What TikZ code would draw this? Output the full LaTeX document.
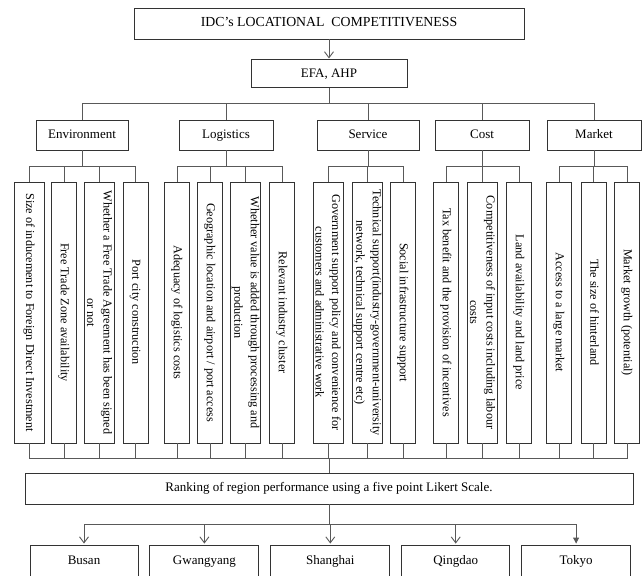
\documentclass[tikz,border=0pt]{standalone}
\usepackage{fontspec}
\setmainfont{Liberation Serif}
\usetikzlibrary{arrows.meta,positioning}

\begin{document}
\begin{tikzpicture}[
    x=1pt, y=-1pt,
    box/.style={rectangle, draw=black!80, line width=0.9pt, align=center, inner sep=2pt, text height=9.5pt, text depth=3pt, font=\fontsize{13}{15}\selectfont},
    head/.style={box, minimum width=390pt, minimum height=31pt},
    cat/.style={box, minimum width=94pt, minimum height=30pt},
    item/.style={box, rotate=-90, minimum width=261pt, minimum height=25pt, inner sep=1pt, text height=9pt, text depth=2.8pt, font=\fontsize{12.2}{16.5}\selectfont},
    broad/.style={minimum height=30pt, text height={}, text depth={}},
    city/.style={box, minimum width=108pt, minimum height=32pt},
    link/.style={draw=black!65, line width=0.9pt},
    openarr/.style={link, -{Straight Barb[length=6pt,width=9pt]}, shorten >=1pt},
    fullarr/.style={link, -{Triangle[length=6pt,width=6pt]}, shorten >=1pt}
  ]
    \useasboundingbox (0,0) rectangle (644,575);
    \coordinate (topbus) at (0,103);
    \coordinate (sub) at (0,166);
    \coordinate (bot) at (0,458);
    \coordinate (cbus) at (0,524);

    \node[head, font=\fontsize{13.8}{15}\selectfont] (title) at (329,23.5) {IDC’s LOCATIONAL\ \ COMPETITIVENESS};
    \node[box, minimum width=156pt, minimum height=28pt, below=20pt of title] (efa) {EFA, AHP};

    \node[cat, minimum width=92pt] (env) at (82,135) {Environment};
    \node[cat] (log) at (226,135) {Logistics};
    \node[cat, minimum width=102pt] (srv) at (368,135) {Service};
    \node[cat] (cst) at (482,135) {Cost};
    \node[cat] (mkt) at (594,135) {Market};

    % environment
    \node[item, broad] (c1) at (29,312.5) {Size of inducement to Foreign Direct Investment};
    \node[item] (c2) at (64,312.5) {Free Trade Zone availability};
    \node[item, broad] (c3) at (99.5,312.5) {Whether a Free Trade Agreement has been signed\\ or not};
    \node[item] (c4) at (135.5,312.5) {Port city construction};
    % logistics
    \node[item] (c5) at (177,312.5) {Adequacy of logistics costs};
    \node[item] (c6) at (210,312.5) {Geographic location and airport / port access};
    \node[item, broad] (c7) at (245.5,312.5) {Whether value is added through processing and\\ production};
    \node[item] (c8) at (282,312.5) {Relevant industry cluster};
    % service
    \node[item, broad] (c9) at (328,312.5) {Government support policy and convenience for\\ customers and administrative work};
    \node[item, broad] (c10) at (367.5,312.5) {Technical support(industry-government-university\\ network, technical support centre etc)};
    \node[item] (c11) at (403,312.5) {Social infrastructure support};
    % cost
    \node[item] (c12) at (446,312.5) {Tax benefit and the provision of incentives};
    \node[item, broad] (c13) at (482.5,312.5) {Competitiveness of input costs including labour\\ costs};
    \node[item] (c14) at (519,312.5) {Land availability and land price};
    % market
    \node[item] (c15) at (559,312.5) {Access to a large market};
    \node[item] (c16) at (593.5,312.5) {The size of hinterland};
    \node[item] (c17) at (627,312.5) {Market growth (potential)};

    \node[box, minimum width=608pt, minimum height=31pt] (rank) at (329,488.5) {Ranking of region performance using a five point Likert Scale.};

    \node[city] (busan) at (84,561) {Busan};
    \node[city, minimum width=109pt, right=11pt of busan] (gwang) {Gwangyang};
    \node[city, minimum width=119pt, right=11pt of gwang] (shang) {Shanghai};
    \node[city, right=11pt of shang] (qing) {Qingdao};
    \node[city, minimum width=109pt, right=11pt of qing] (tokyo) {Tokyo};

    \draw[openarr] (title) -- (efa);
    \draw[link] (efa.south) -- (efa.south |- topbus) -| (env.north);
    \draw[link] (efa.south) -- (efa.south |- topbus) -| (log.north);
    \draw[link] (efa.south) -- (efa.south |- topbus) -| (srv.north);
    \draw[link] (efa.south) -- (efa.south |- topbus) -| (cst.north);
    \draw[link] (efa.south) -- (efa.south |- topbus) -| (mkt.north);

    \draw[link] (env.south) -- (env.south |- sub) -| (c1.west);
    \draw[link] (env.south) -- (env.south |- sub) -| (c2.west);
    \draw[link] (env.south) -- (env.south |- sub) -| (c3.west);
    \draw[link] (env.south) -- (env.south |- sub) -| (c4.west);
    \draw[link] (log.south) -- (log.south |- sub) -| (c5.west);
    \draw[link] (log.south) -- (log.south |- sub) -| (c6.west);
    \draw[link] (log.south) -- (log.south |- sub) -| (c7.west);
    \draw[link] (log.south) -- (log.south |- sub) -| (c8.west);
    \draw[link] (srv.south) -- (srv.south |- sub) -| (c9.west);
    \draw[link] (srv.south) -- (srv.south |- sub) -| (c10.west);
    \draw[link] (srv.south) -- (srv.south |- sub) -| (c11.west);
    \draw[link] (cst.south) -- (cst.south |- sub) -| (c12.west);
    \draw[link] (cst.south) -- (cst.south |- sub) -| (c13.west);
    \draw[link] (cst.south) -- (cst.south |- sub) -| (c14.west);
    \draw[link] (mkt.south) -- (mkt.south |- sub) -| (c15.west);
    \draw[link] (mkt.south) -- (mkt.south |- sub) -| (c16.west);
    \draw[link] (mkt.south) -- (mkt.south |- sub) -| (c17.west);

    % columns into the ranking
    \draw[link] (c1.east) -- (c1.east |- bot) -| (rank.north);
    \draw[link] (c2.east) -- (c2.east |- bot) -| (rank.north);
    \draw[link] (c3.east) -- (c3.east |- bot) -| (rank.north);
    \draw[link] (c4.east) -- (c4.east |- bot) -| (rank.north);
    \draw[link] (c5.east) -- (c5.east |- bot) -| (rank.north);
    \draw[link] (c6.east) -- (c6.east |- bot) -| (rank.north);
    \draw[link] (c7.east) -- (c7.east |- bot) -| (rank.north);
    \draw[link] (c8.east) -- (c8.east |- bot) -| (rank.north);
    \draw[link] (c9.east) -- (c9.east |- bot) -| (rank.north);
    \draw[link] (c10.east) -- (c10.east |- bot) -| (rank.north);
    \draw[link] (c11.east) -- (c11.east |- bot) -| (rank.north);
    \draw[link] (c12.east) -- (c12.east |- bot) -| (rank.north);
    \draw[link] (c13.east) -- (c13.east |- bot) -| (rank.north);
    \draw[link] (c14.east) -- (c14.east |- bot) -| (rank.north);
    \draw[link] (c15.east) -- (c15.east |- bot) -| (rank.north);
    \draw[link] (c16.east) -- (c16.east |- bot) -| (rank.north);
    \draw[link] (c17.east) -- (c17.east |- bot) -| (rank.north);

    \draw[openarr] (rank.south) -- (rank.south |- cbus) -| (busan.north);
    \draw[openarr] (rank.south) -- (rank.south |- cbus) -| (gwang.north);
    \draw[openarr] (rank.south) -- (rank.south |- cbus) -| (shang.north);
    \draw[openarr] (rank.south) -- (rank.south |- cbus) -| (qing.north);
    \draw[fullarr] (rank.south) -- (rank.south |- cbus) -| (tokyo.north);
  \end{tikzpicture}
\end{document}
